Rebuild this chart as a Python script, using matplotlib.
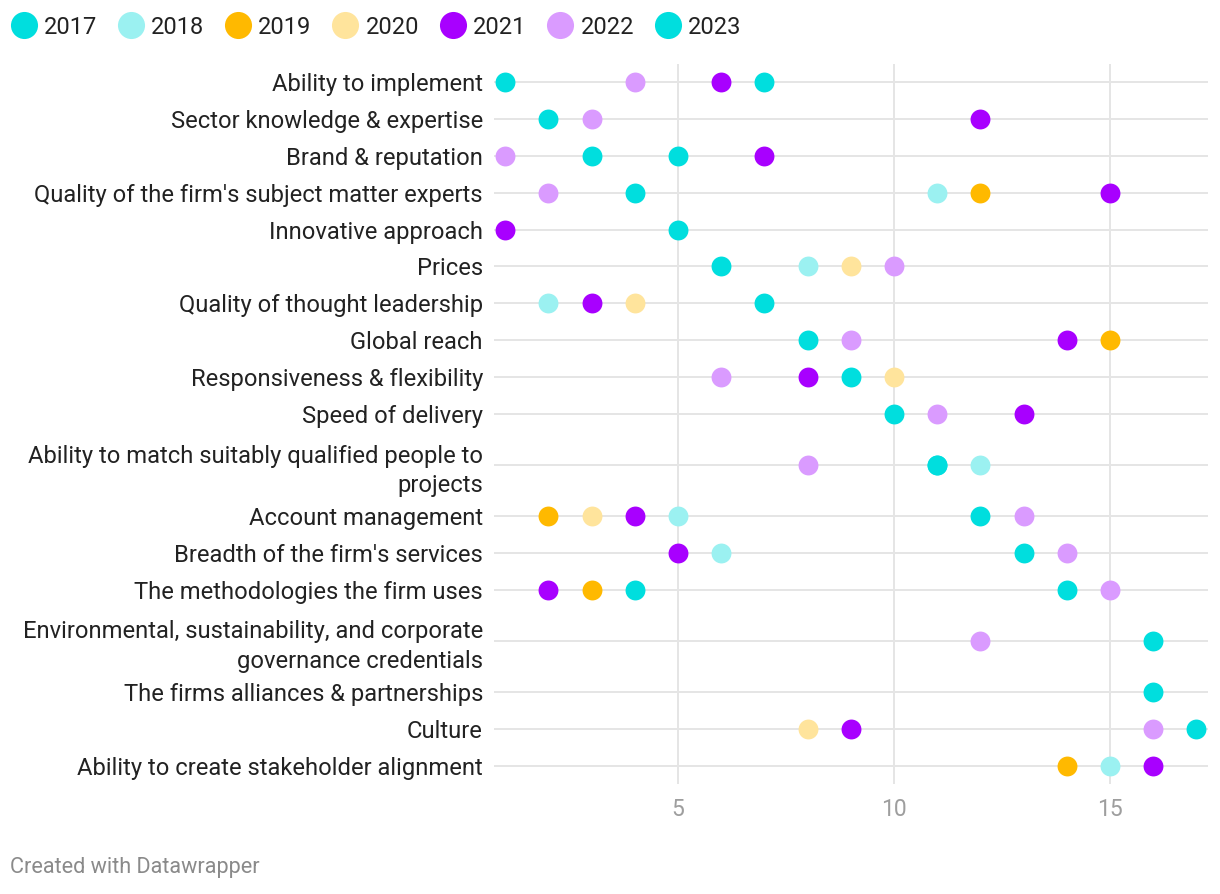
import numpy as np
import matplotlib
matplotlib.use("Agg")
import matplotlib.pyplot as plt
from matplotlib.lines import Line2D

plt.rcParams['font.family'] = ['Roboto', 'DejaVu Sans']

factors = [
    "Ability to implement",
    "Sector knowledge & expertise",
    "Brand & reputation",
    "Quality of the firm's subject matter experts",
    "Innovative approach",
    "Prices",
    "Quality of thought leadership",
    "Global reach",
    "Responsiveness & flexibility",
    "Speed of delivery",
    "Ability to match suitably qualified people to\nprojects",
    "Account management",
    "Breadth of the firm's services",
    "The methodologies the firm uses",
    "Environmental, sustainability, and corporate\ngovernance credentials",
    "The firms alliances & partnerships",
    "Culture",
    "Ability to create stakeholder alignment",
]

N = np.nan
years = ["2017", "2018", "2019", "2020", "2021", "2022", "2023"]
rank_2017 = [1, N, 3, N, N, N, N, N, N, N, 11, N, N, 4, N, N, N, N]
rank_2018 = [N, N, N, 11, N, 8, 2, N, N, N, 12, 5, 6, N, N, N, N, 15]
rank_2019 = [N, N, N, 12, N, N, N, 15, N, N, N, 2, N, 3, N, N, N, 14]
rank_2020 = [N, N, N, N, N, 9, 4, N, 10, N, N, 3, N, N, N, N, 8, N]
rank_2021 = [6, 12, 7, 15, 1, N, 3, 14, 8, 13, N, 4, 5, 2, N, N, 9, 16]
rank_2022 = [4, 3, 1, 2, N, 10, N, 9, 6, 11, 8, 13, 14, 15, 12, N, 16, N]
rank_2023 = [7, 2, 5, 4, 5, 6, 7, 8, 9, 10, 11, 12, 13, 14, 16, 16, 17, N]

series = [rank_2017, rank_2018, rank_2019, rank_2020, rank_2021, rank_2022, rank_2023]
colors = ["#00dede", "#9bf1f1", "#ffb900", "#ffe49c", "#a800ff", "#da9bff", "#00dede"]

# row heights grow with the number of label lines
heights = np.array([1 + 0.767 * f.count("\n") for f in factors])
centers = np.cumsum(heights) - heights / 2
total = heights.sum()

fig = plt.figure(figsize=(12.2, 8.94), dpi=100)
ax = fig.add_axes([494 / 1220, 1 - 784.3 / 894, 714 / 1220, 720.8 / 894])

grid_c = "#e5e5e5"
for y in centers:
    ax.axhline(y, color=grid_c, lw=1.4, zorder=0)
for x in [5, 10, 15]:
    ax.axvline(x, color=grid_c, lw=1.4, zorder=0)

for vals, c in zip(series, colors):
    ax.scatter(vals, centers, s=205, color=c, linewidths=0, zorder=3)

ax.set_xlim(0.74, 17.27)
ax.set_ylim(total, 0)
ax.set_xticks([5, 10, 15])
ax.set_xticklabels(["5", "10", "15"], fontsize=16.5, color="#9e9e9e")
ax.set_yticks(centers)
ax.set_yticklabels(factors, fontsize=17.1, color="#222222", linespacing=1.35)
ax.tick_params(axis="both", length=0)
ax.tick_params(axis="y", pad=8)
ax.tick_params(axis="x", pad=10)
for s in ax.spines.values():
    s.set_visible(False)

handles = [Line2D([], [], marker="o", ls="", markersize=19.5, markerfacecolor=c,
                  markeredgewidth=0) for c in colors]
fig.legend(handles, years, loc="upper left", bbox_to_anchor=(0.0, 0.993), ncol=7,
           frameon=False, fontsize=17, handletextpad=0.25, columnspacing=0.84,
           handlelength=1.2, borderaxespad=0.0, labelcolor="#222222")

fig.text(10 / 1220, 1 - 868 / 894, "Created with Datawrapper", fontsize=15.6,
         color="#8a8a8a", va="center", ha="left")

fig.savefig("out.png", dpi=100)
